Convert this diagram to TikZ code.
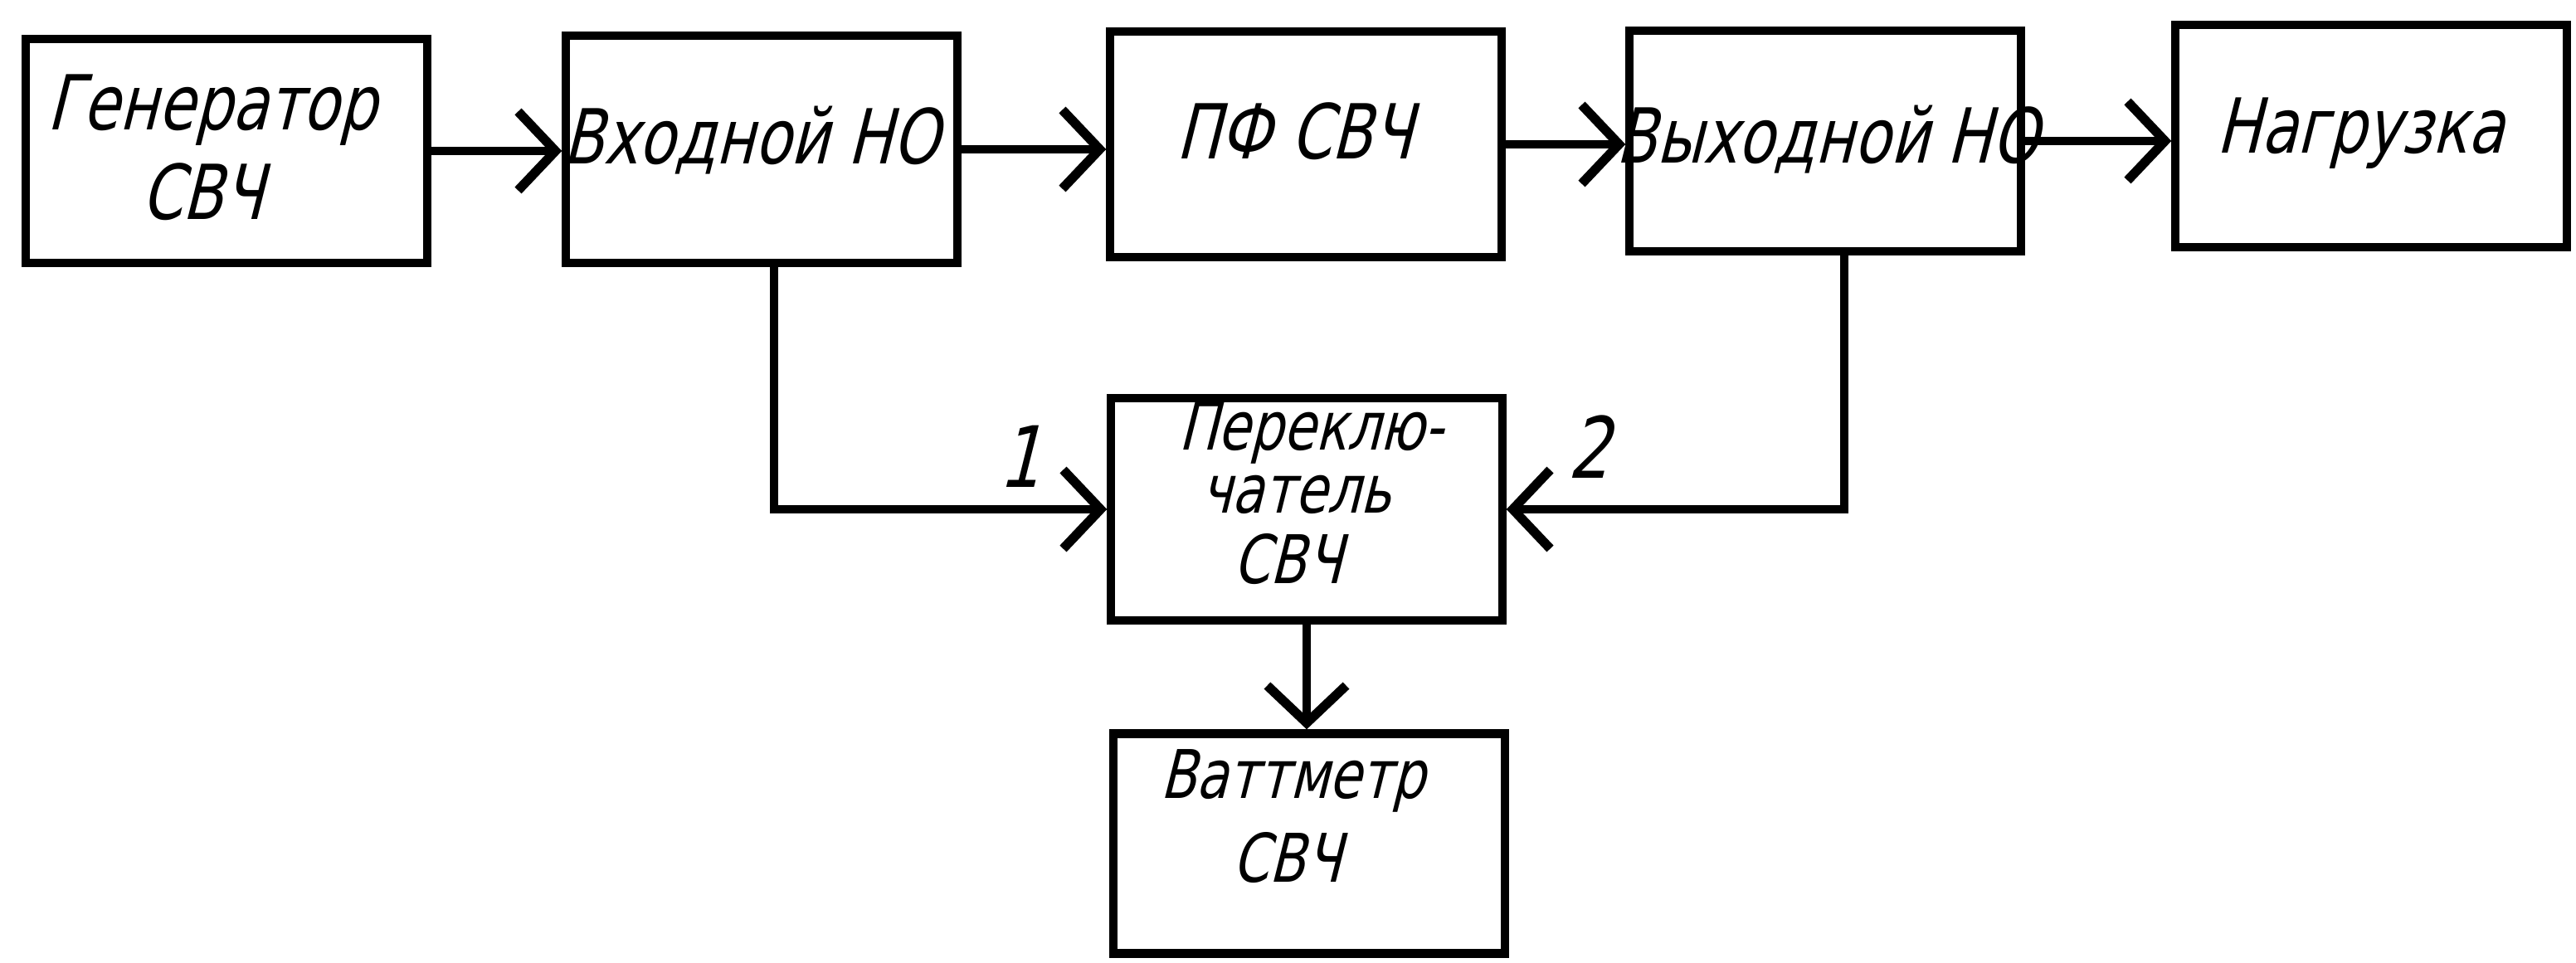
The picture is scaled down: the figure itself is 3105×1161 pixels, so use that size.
\documentclass[tikz,border=0pt]{standalone}
\usepackage{fontspec}
\newfontfamily\gost{DejaVu Sans}[FakeSlant=0.25,FakeStretch=0.78]
\usetikzlibrary{arrows.meta}
\begin{document}
\begin{tikzpicture}[x=0.01cm,y=-0.01cm,
  blk/.style={draw, line width=2.9pt, minimum width=4.71cm, minimum height=2.70cm, inner sep=0pt},
  arr/.style={line width=2.6pt, -{Straight Barb[length=0.45cm,width=0.95cm,line width=3.2pt]}},
  txt/.style={font=\gost\fontsize{26}{30}\selectfont, inner sep=0pt, anchor=base},
  txs/.style={font=\gost\fontsize{23}{27}\selectfont, inner sep=0pt, anchor=base},
  num/.style={font=\gost\fontsize{29}{33}\selectfont, inner sep=0pt, anchor=base}]
\useasboundingbox[fill=white] (0,0) rectangle (3105,1161);
% boxes
\node[blk, minimum width=4.83cm] (b1) at (273,182) {};
\node[blk, minimum height=2.74cm] (b2) at (918,180) {};
\node[blk, minimum height=2.72cm] (b3) at (1574,174) {};
\node[blk, minimum height=2.66cm] (b4) at (2200,170) {};
\node[blk, minimum height=2.68cm] (b5) at (2858,164) {};
\node[blk, minimum height=2.68cm] (b6) at (1575,614) {};
\node[blk, minimum height=2.65cm] (b7) at (1578,1017) {};
% texts
\node[txt] (t1a) at (255,157) {Генератор};
\node[txt] (t1b) at (244,265) {СВЧ};
\node[txt] (t2) at (905,198) {Входной НО};
\node[txt] (t3) at (1560,192) {ПФ СВЧ};
\node[txt] (t4) at (2202,197) {Выходной НО};
\node[txt] (t5) at (2845,185) {Нагрузка};
\node[txs] (t6a) at (1580,543) {Переклю-};
\node[txs] (t6b) at (1562,619) {чатель};
\node[txs] (t6c) at (1552,703) {СВЧ};
\node[txs] (t7a) at (1558,962) {Ваттметр};
\node[txs] (t7b) at (1551,1063) {СВЧ};
\node[num] (n1) at (1229,588) {1};
\node[num] (n2) at (1915,577) {2};
% connectors
\draw[arr] (b1.east) -- (b1.east -| b2.west);
\draw[arr] (b2.east) -- (b2.east -| b3.west);
\draw[arr] (b3.east) -- (b3.east -| b4.west);
\draw[arr] (b4.east) -- (b4.east -| b5.west);
\draw[arr] ([xshift=0.15cm]b2.south) |- (b6.west);
\draw[arr] ([xshift=0.23cm]b4.south) |- (b6.east);
\draw[arr] (b6.south) -- (b6.south |- b7.north);
\end{tikzpicture}
\end{document}
